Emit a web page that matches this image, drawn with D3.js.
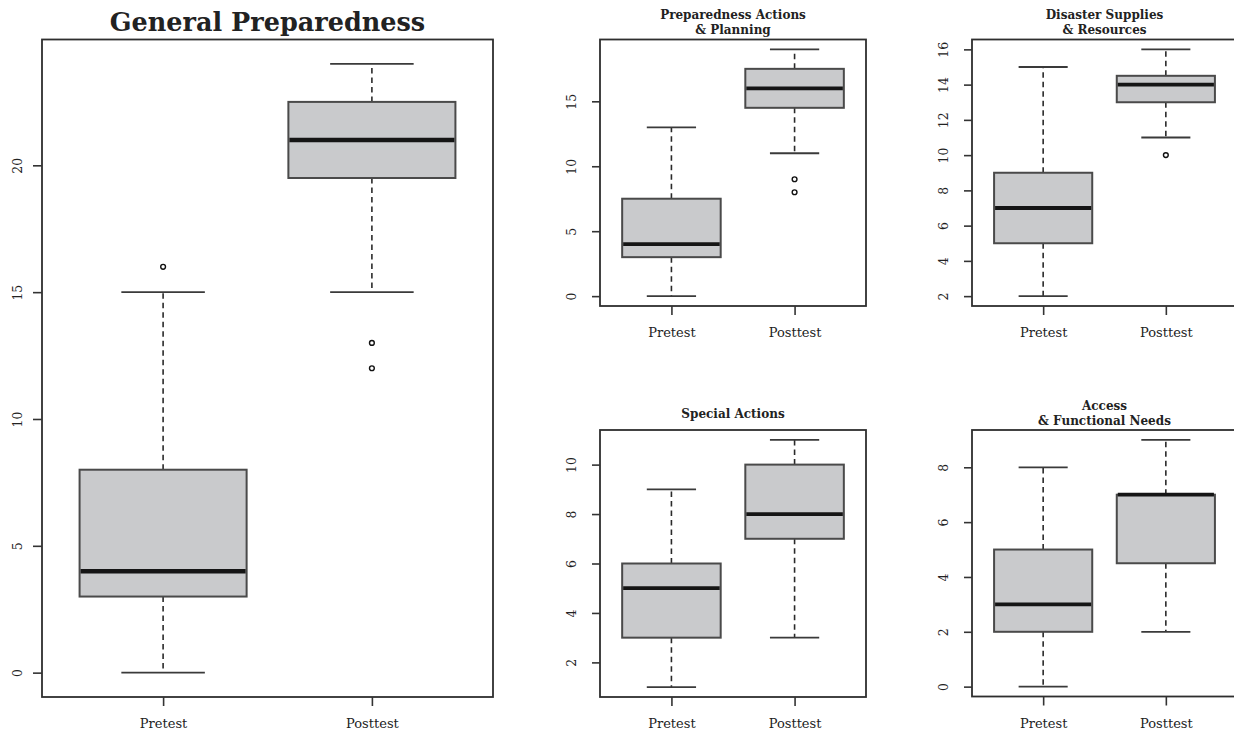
<!DOCTYPE html>
<html>
<head>
<meta charset="utf-8">
<script src="https://cdn.jsdelivr.net/npm/d3@7"></script>
<style>
  html, body { margin: 0; padding: 0; background: #fff; }
  svg { display: block; }
  text { font-family: "DejaVu Serif", serif; fill: #222; }
</style>
</head>
<body>
<svg id="chart" width="1234" height="732"></svg>
<script>
// ---------- data (five-number summaries: min, Q1, median, Q3, max) ----------
const groups = ["Pretest", "Posttest"];

const generalTitle = ["General Preparedness"];
const generalPre = [0, 3, 4, 8, 15];
const generalPost = [15, 19.5, 21, 22.5, 24];
const generalOutPre = [16];
const generalOutPost = [13, 12];
const generalTicks = [0, 5, 10, 15, 20];

const actionsTitle = ["Preparedness Actions", "& Planning"];
const actionsPre = [0, 3, 4, 7.5, 13];
const actionsPost = [11, 14.5, 16, 17.5, 19];
const actionsOutPre = [];
const actionsOutPost = [9, 8];
const actionsTicks = [0, 5, 10, 15];

const suppliesTitle = ["Disaster Supplies", "& Resources"];
const suppliesPre = [2, 5, 7, 9, 15];
const suppliesPost = [11, 13, 14, 14.5, 16];
const suppliesOutPre = [];
const suppliesOutPost = [10];
const suppliesTicks = [2, 4, 6, 8, 10, 12, 14, 16];

const specialTitle = ["Special Actions"];
const specialPre = [1, 3, 5, 6, 9];
const specialPost = [3, 7, 8, 10, 11];
const specialOutPre = [];
const specialOutPost = [];
const specialTicks = [2, 4, 6, 8, 10];

const accessTitle = ["Access", "& Functional Needs"];
const accessPre = [0, 2, 3, 5, 8];
const accessPost = [2, 4.5, 7, 7, 9];
const accessOutPre = [];
const accessOutPost = [];
const accessTicks = [0, 2, 4, 6, 8];

// ---------- layout ----------
const svg = d3.select("#chart");

const panels = [
  { title: generalTitle, stats: [generalPre, generalPost], outs: [generalOutPre, generalOutPost], ticks: generalTicks,
    box: { l: 42, r: 493, t: 39.5, b: 697 }, big: true },
  { title: actionsTitle, stats: [actionsPre, actionsPost], outs: [actionsOutPre, actionsOutPost], ticks: actionsTicks,
    box: { l: 600, r: 866, t: 39.5, b: 306 }, big: false, titleBase: [18.5, 34] },
  { title: suppliesTitle, stats: [suppliesPre, suppliesPost], outs: [suppliesOutPre, suppliesOutPost], ticks: suppliesTicks,
    box: { l: 972, r: 1237, t: 39.5, b: 306 }, big: false, titleBase: [18.5, 34] },
  { title: specialTitle, stats: [specialPre, specialPost], outs: [specialOutPre, specialOutPost], ticks: specialTicks,
    box: { l: 600, r: 866, t: 430, b: 697 }, big: false, titleBase: [417.5] },
  { title: accessTitle, stats: [accessPre, accessPost], outs: [accessOutPre, accessOutPost], ticks: accessTicks,
    box: { l: 972, r: 1237, t: 430, b: 696.5 }, big: false, titleBase: [409.5, 425] }
];

panels.forEach(p => {
  const B = p.box;
  const all = p.stats.flat().concat(p.outs.flat());
  const lo = d3.min(all), hi = d3.max(all), pad = (hi - lo) * 0.04;
  const y = d3.scaleLinear().domain([lo - pad, hi + pad]).range([B.b, B.t]);
  const x = d3.scaleLinear().domain([0.5 - 0.08, 2.5 + 0.08]).range([B.l, B.r]);
  const unit = x(1) - x(0);
  const boxW = 0.8 * unit, capW = 0.4 * unit;
  const g = svg.append("g");

  // boxes
  p.stats.forEach((s, i) => {
    const cx = x(i + 1);
    const [mn, q1, md, q3, mx] = s;
    // whiskers (dashed)
    g.append("line").attr("x1", cx).attr("x2", cx).attr("y1", y(q3)).attr("y2", y(mx))
      .attr("stroke", "#2a2a2a").attr("stroke-width", 1.6).attr("stroke-dasharray", "5.5,4");
    g.append("line").attr("x1", cx).attr("x2", cx).attr("y1", y(q1)).attr("y2", y(mn))
      .attr("stroke", "#2a2a2a").attr("stroke-width", 1.6).attr("stroke-dasharray", "5.5,4");
    // caps
    [mn, mx].forEach(v => {
      g.append("line").attr("x1", cx - capW / 2).attr("x2", cx + capW / 2).attr("y1", y(v)).attr("y2", y(v))
        .attr("stroke", "#3a3a3a").attr("stroke-width", 1.8);
    });
    // box
    g.append("rect").attr("x", cx - boxW / 2).attr("y", y(q3)).attr("width", boxW).attr("height", y(q1) - y(q3))
      .attr("fill", "#c9cacc").attr("stroke", "#4a4a4a").attr("stroke-width", 2);
    // median
    g.append("line").attr("x1", cx - boxW / 2 + 1).attr("x2", cx + boxW / 2 - 1).attr("y1", y(md)).attr("y2", y(md))
      .attr("stroke", "#151515").attr("stroke-width", p.big ? 4.5 : 3.8);
    // outliers
    p.outs[i].forEach(v => {
      g.append("circle").attr("cx", cx).attr("cy", y(v)).attr("r", 2.4)
        .attr("fill", "none").attr("stroke", "#111").attr("stroke-width", 1.4);
    });
  });

  // frame
  g.append("rect").attr("x", B.l).attr("y", B.t).attr("width", B.r - B.l).attr("height", B.b - B.t)
    .attr("fill", "none").attr("stroke", "#2e2e2e").attr("stroke-width", 1.8);

  // y axis
  const tl = p.big ? 9 : 8;
  const ya = g.append("g").attr("transform", `translate(${B.l},0)`)
    .call(d3.axisLeft(y).tickValues(p.ticks).tickSize(tl).tickSizeOuter(0).tickFormat(d3.format("d")));
  ya.select(".domain").remove();
  ya.selectAll(".tick line").attr("stroke", "#333").attr("stroke-width", 1.6);
  const off = p.big ? 20 : 24.5;
  ya.selectAll(".tick text")
    .attr("x", null).attr("dy", null)
    .attr("transform", `translate(${-off},0) rotate(-90)`)
    .attr("text-anchor", "middle")
    .style("font-family", "'DejaVu Serif', serif").style("font-size", "12.5px").attr("fill", "#222");

  // x axis
  const xa = g.append("g").attr("transform", `translate(0,${B.b})`)
    .call(d3.axisBottom(x).tickValues([1, 2]).tickSize(9).tickSizeOuter(0).tickFormat(d => groups[d - 1]));
  xa.select(".domain").remove();
  xa.selectAll(".tick line").attr("stroke", "#333").attr("stroke-width", 1.6);
  xa.selectAll(".tick text")
    .attr("y", null).attr("dy", null)
    .attr("transform", `translate(0,31)`)
    .style("font-family", "'DejaVu Serif', serif").style("font-size", "13px").attr("fill", "#222");

  // title
  const cxT = (B.l + B.r) / 2;
  if (p.big) {
    g.append("text").attr("x", cxT).attr("y", 31).attr("text-anchor", "middle")
      .style("font-family", "'DejaVu Serif', serif").style("font-weight", "bold").style("font-size", "25.5px")
      .attr("fill", "#222").text(p.title[0]);
  } else {
    p.title.forEach((t, k) => {
      g.append("text").attr("x", cxT).attr("y", p.titleBase[k]).attr("text-anchor", "middle")
        .style("font-family", "'DejaVu Serif', serif").style("font-weight", "bold").style("font-size", "12px")
        .attr("fill", "#222").text(t);
    });
  }
});
</script>
</body>
</html>
